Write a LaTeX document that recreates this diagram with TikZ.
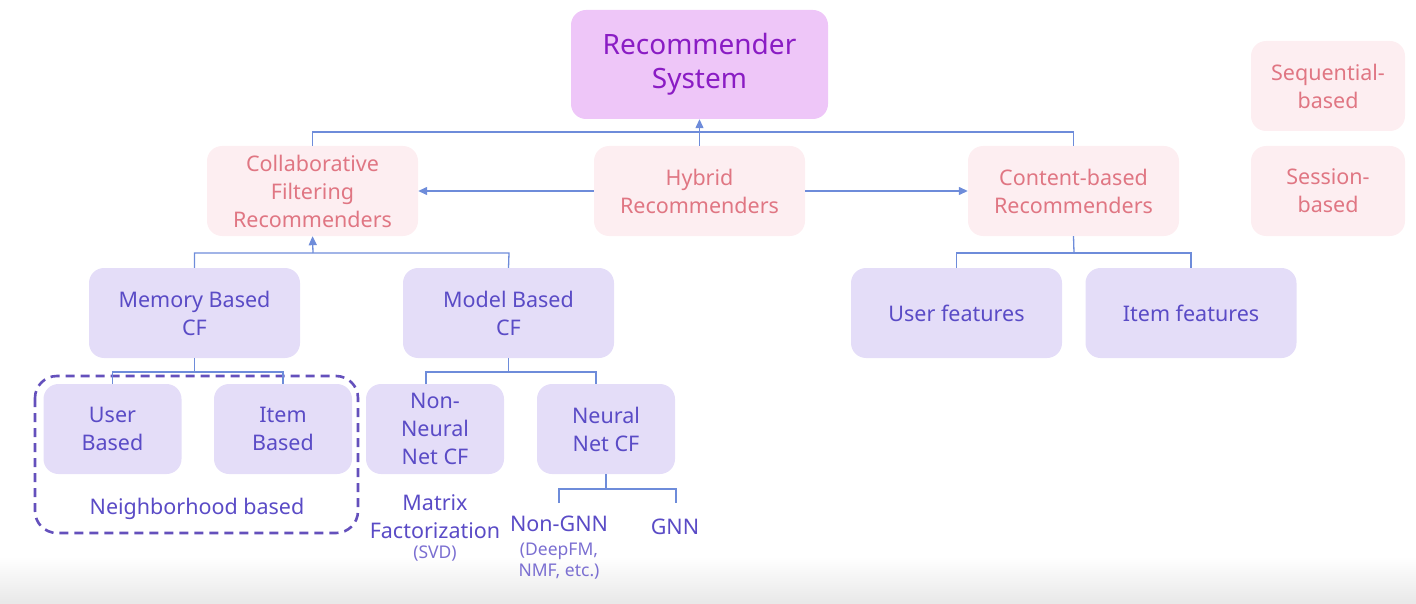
\documentclass[tikz,border=0pt]{standalone}
\usepackage{fontspec}
\setmainfont{Noto Sans}
\usetikzlibrary{arrows.meta}
\definecolor{rsfill}{HTML}{EEC6F8}
\definecolor{rstext}{HTML}{8A1CC4}
\definecolor{pkfill}{HTML}{FDEEF1}
\definecolor{pktext}{HTML}{E07683}
\definecolor{lvfill}{HTML}{E4DDF8}
\definecolor{lvtext}{HTML}{5A4BC6}
\definecolor{conn}{HTML}{6E8CDA}
\definecolor{dashcol}{HTML}{6450BC}
\tikzset{
  box/.style={rounded corners=15pt, inner sep=0pt, align=center, font=\fontsize{21.5}{28}\selectfont},
  rsbox/.style={box, fill=rsfill, text=rstext, minimum width=257pt, minimum height=109pt, font=\fontsize{28}{34}\selectfont},
  pkbox/.style={box, fill=pkfill, text=pktext, minimum width=211pt, minimum height=90pt},
  smpk/.style={box, fill=pkfill, text=pktext, minimum width=154pt, minimum height=90pt},
  lvbox/.style={box, fill=lvfill, text=lvtext, minimum width=211pt, minimum height=90pt},
  smlv/.style={box, fill=lvfill, text=lvtext, minimum width=138pt, minimum height=90pt},
  lbl/.style={text=lvtext, align=center, inner sep=0pt, font=\fontsize{21.5}{28}\selectfont},
  smlbl/.style={text=lvtext!80, align=center, inner sep=0pt, font=\fontsize{17.5}{21}\selectfont},
  link/.style={draw=conn, line width=1.3pt},
  arr/.style={link, -{Triangle[length=9pt,width=8pt]}},
  groupbox/.style={draw=dashcol, line width=2.6pt, dash pattern=on 9pt off 6pt, rounded corners=22pt},
}
\begin{document}
\begin{tikzpicture}[x=1pt,y=-1pt]
\useasboundingbox (0,0) rectangle (1416,604);
\shade[top color=white, bottom color=black!9] (0,556) rectangle (1416,604);
% nodes
\node[rsbox] (rs) at (699.5,64.5) {Recommender\\System};
\node[pkbox] (cf) at (312.5,191) {Collaborative\\Filtering\\Recommenders};
\node[pkbox] (hy) at (699.5,191) {Hybrid\\Recommenders};
\node[pkbox] (cb) at (1073.5,191) {Content-based\\Recommenders};
\node[smpk] (seq) at (1328,86) {Sequential-\\based};
\node[smpk] (ses) at (1328,191) {Session-\\based};
\node[lvbox] (mem) at (194.5,313) {Memory Based\\CF};
\node[lvbox] (mod) at (508.5,313) {Model Based\\CF};
\node[lvbox] (uf) at (956.5,313) {User features};
\node[lvbox] (if) at (1191,313) {Item features};
\node[smlv] (ub) at (112.5,429) {User\\Based};
\node[smlv] (ib) at (283,429) {Item\\Based};
\node[smlv] (nn) at (435,429) {Non-\\Neural\\Net CF};
\node[smlv] (ncf) at (606,429) {Neural\\Net CF};
\draw[groupbox] (35,376) rectangle (358,533);
\node[lbl] (nb) at (197,509) {Neighborhood based};
\node[lbl] (mf) at (435,517) {Matrix\\Factorization};
\node[smlbl] (svd) at (435,554) {(SVD)};
\node[lbl] (ngnn) at (559,524) {Non-GNN};
\node[smlbl] (deep) at (559,561) {(DeepFM,\\NMF, etc.)};
\node[lbl] (gnn) at (675,527) {GNN};
% connectors
\draw[link] (cf.north) |- (700,132) -| (cb.north);
\draw[arr] (hy.north) -- (rs.south);
\draw[arr] (hy.west) -- (cf.east);
\draw[arr] (hy.east) -- (cb.west);
\draw[link] (mem.north) |- (509,253) -- (mod.north);
\draw[arr] (313,253) -- (cf.south);
\draw[link] (cb.south) -- (1074,253);
\draw[link] (uf.north) |- (1191,253) -- (if.north);
\draw[link] (mem.south) -- (194.5,372);
\draw[link] (ub.north) |- (283,372) -- (ib.north);
\draw[link] (mod.south) -- (508.5,372);
\coordinate (mL) at (426,384);
\coordinate (mR) at (596,384);
\draw[link] (mL) |- (596,372) -- (mR);
\draw[link] (ncf.south) -- (606,489);
\coordinate (gL) at (559,503);
\coordinate (gR) at (676,503);
\draw[link] (gL) |- (676,489) -- (gR);
\end{tikzpicture}
\end{document}
